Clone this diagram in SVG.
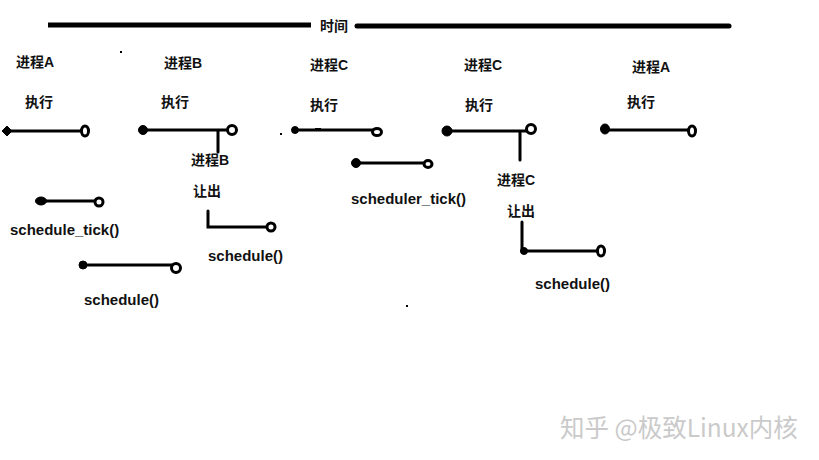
<svg xmlns="http://www.w3.org/2000/svg" width="819" height="460" viewBox="0 0 819 460">
<style>
.t{font-family:"Liberation Sans","Noto Sans CJK SC",sans-serif;font-weight:bold;font-size:14px;fill:#111}
.l{font-size:15px}
.ln{stroke:#000;stroke-width:3;fill:none;stroke-linecap:round}
.o{fill:#fff;stroke:#000;stroke-width:3}
.f{fill:#000;stroke:#000;stroke-width:1}
.wm{font-family:"Noto Sans CJK SC",sans-serif;font-size:24.5px;fill:#cacaca}
</style>
<rect width="819" height="460" fill="#fff"/>
<g id="timeline">
<line x1="48" y1="25" x2="311" y2="25" stroke="#000" stroke-width="5"/>
<line x1="357" y1="26" x2="729" y2="26" stroke="#000" stroke-width="5" stroke-linecap="round"/>
<text class="t" x="320" y="31">时间</text>
</g>
<g id="labels">
<text class="t" x="16" y="67">进程A</text>
<text class="t" x="25" y="107">执行</text>
<text class="t" x="164" y="68">进程B</text>
<text class="t" x="161" y="107">执行</text>
<text class="t" x="191" y="165">进程B</text>
<text class="t" x="193" y="196">让出</text>
<text class="t l" x="10" y="235">schedule_tick()</text>
<text class="t l" x="208" y="261">schedule()</text>
<text class="t l" x="84" y="305">schedule()</text>
<text class="t" x="310" y="70">进程C</text>
<text class="t" x="310" y="110">执行</text>
<text class="t l" x="351" y="204">scheduler_tick()</text>
<text class="t" x="464" y="70">进程C</text>
<text class="t" x="465" y="110">执行</text>
<text class="t" x="497" y="185">进程C</text>
<text class="t" x="507" y="216">让出</text>
<text class="t l" x="535" y="289">schedule()</text>
<text class="t" x="632" y="72">进程A</text>
<text class="t" x="627" y="107">执行</text>
</g>
<g id="connectors">
<path class="ln" d="M7 131 H85"/>
<path class="ln" d="M143 130 H232 M218 130 V152"/>
<path class="ln" d="M208 211 V227 H272"/>
<path class="ln" d="M40 201 H99"/>
<path class="ln" d="M83 265 H176"/>
<path class="ln" d="M296 130 H377"/>
<path class="ln" d="M355 163 H428"/>
<path class="ln" d="M447 131 H531 M520 131 V160"/>
<path class="ln" d="M522 222 V251 H601"/>
<path class="ln" d="M605 130 H692"/>
</g>
<g id="endpoints">
<path class="f" d="M2 131 L7 126 L12 131 L7 136 Z"/>
<ellipse class="o" cx="85" cy="131" rx="3.5" ry="5"/>
<circle class="f" cx="143" cy="130" r="4.5"/>
<circle class="o" cx="232" cy="130" r="4.5"/>
<circle class="o" cx="271" cy="227" r="4"/>
<ellipse class="f" cx="41" cy="201" rx="5.5" ry="4"/>
<circle class="o" cx="99" cy="202" r="4"/>
<circle class="f" cx="83" cy="265" r="4"/>
<circle class="o" cx="176" cy="268" r="4.5"/>
<circle class="f" cx="295" cy="130" r="3.5"/>
<ellipse class="o" cx="377" cy="132" rx="4.5" ry="3.5"/>
<circle class="f" cx="356" cy="163" r="4.5"/>
<ellipse class="o" cx="428" cy="164" rx="4" ry="3.5"/>
<circle class="f" cx="447" cy="131" r="5"/>
<circle class="o" cx="531" cy="129" r="4.5"/>
<circle class="f" cx="524" cy="251" r="3.5"/>
<ellipse class="o" cx="601" cy="251" rx="3.5" ry="5"/>
<ellipse class="f" cx="605" cy="129" rx="4.5" ry="5"/>
<ellipse class="o" cx="692" cy="131" rx="3.5" ry="5"/>
<rect x="120" y="51" width="2" height="2"/>
<rect x="280" y="133" width="2" height="2"/>
<rect x="406" y="305" width="2" height="2"/>
<rect x="315" y="128" width="6" height="2"/>
</g>
<text class="wm" x="560" y="437">知乎 @极致Linux内核</text>
</svg>
